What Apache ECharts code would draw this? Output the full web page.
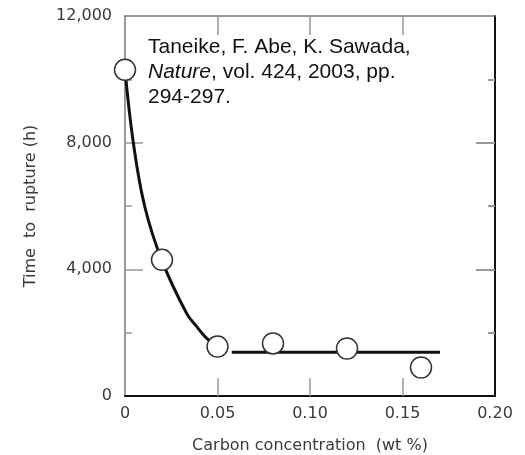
<!DOCTYPE html>
<html>
<head>
<meta charset="utf-8">
<script src="https://cdn.jsdelivr.net/npm/echarts@6/dist/echarts.min.js"></script>
<style>
  html, body { margin: 0; padding: 0; background: #fff; }
  #chart { width: 525px; height: 455px; }
</style>
</head>
<body>
<div id="chart"></div>
<script>
// measured points (wt % C, hours)
const carbon = [0, 0.02, 0.05, 0.08, 0.12, 0.16]
const rupture = [10300, 4300, 1560, 1660, 1500, 900]

// hand-drawn fit through the low-carbon points
const fitX = [0, 0.0045, 0.0106, 0.0198, 0.0333, 0.0388, 0.0442, 0.0502]
const fitY = [10300, 8000, 6000, 4300, 2610, 2190, 1820, 1560]

// plateau line
const plateauX = [0.0577, 0.1703]
const plateauY = [1380, 1380]

// inner tick positions (the frame edges carry no tick)
const xTicks = [0.05, 0.1, 0.15]
const yTicks = [4000, 8000]

const citation = [
  '{n|Taneike, F. Abe, K. Sawada,}',
  '{i|Nature}{n|, vol. 424, 2003, pp.}',
  '{n|294-297.}',
]

const labelFont = { fontFamily: 'DejaVu Sans', fontSize: 16, color: '#3a3a3a' }
const tickGray = '#999'

const chart = echarts.init(document.getElementById('chart'))

chart.setOption({
  animation: false,
  grid: { left: 125, right: 30, top: 16, bottom: 59, outerBoundsMode: 'none' },
  xAxis: [
    {
      type: 'value', position: 'bottom', min: 0, max: 0.2, interval: 0.05,
      name: 'Carbon concentration  (wt %)', nameLocation: 'middle', nameGap: 42,
      nameTextStyle: { ...labelFont },
      axisLine: { onZero: false, lineStyle: { color: '#111', width: 2 } },
      axisTick: { inside: true, length: 18, customValues: xTicks, lineStyle: { color: tickGray, width: 1.5 } },
      axisLabel: { ...labelFont, margin: 10, formatter: v => v === 0 ? '0' : v.toFixed(2) },
      splitLine: { show: false },
    },
    {
      type: 'value', position: 'top', min: 0, max: 0.2, interval: 0.05,
      axisLine: { onZero: false, lineStyle: { color: '#777', width: 1.5 } },
      axisTick: { inside: true, length: 19, customValues: xTicks, lineStyle: { color: tickGray, width: 1.5 } },
      axisLabel: { show: false },
      splitLine: { show: false },
    },
  ],
  yAxis: [
    {
      type: 'value', position: 'left', min: 0, max: 12000, interval: 4000,
      name: 'Time  to  rupture (h)', nameLocation: 'middle', nameGap: 86,
      nameTextStyle: { ...labelFont },
      axisLine: { show: true, onZero: false, lineStyle: { color: '#777', width: 1.5 } },
      axisTick: { inside: true, length: 18, customValues: yTicks, lineStyle: { color: tickGray, width: 1.5 } },
      minorTick: { show: true, splitNumber: 2, length: 7, lineStyle: { color: tickGray, width: 1.5 } },
      axisLabel: { ...labelFont, margin: 13, formatter: v => v.toLocaleString('en-US') },
      splitLine: { show: false },
    },
    {
      type: 'value', position: 'right', min: 0, max: 12000, interval: 4000,
      axisLine: { show: true, onZero: false, lineStyle: { color: '#111', width: 2 } },
      axisTick: { inside: true, length: 19, customValues: yTicks, lineStyle: { color: tickGray, width: 2 } },
      minorTick: { show: true, splitNumber: 2, length: 7, lineStyle: { color: tickGray, width: 2 } },
      axisLabel: { show: false },
      splitLine: { show: false },
    },
  ],
  graphic: [
    {
      type: 'text', left: 148, top: 37,
      style: {
        text: citation.join('\n'),
        rich: {
          n: { fontFamily: 'Liberation Sans', fontSize: 21, lineHeight: 25, fill: '#111' },
          i: { fontFamily: 'Liberation Sans', fontSize: 21, lineHeight: 25, fontStyle: 'italic', fill: '#111' },
        },
      },
    },
  ],
  series: [
    {
      name: 'fit', type: 'line', smooth: 0.4, symbol: 'none', z: 2,
      data: fitX.map((x, i) => [x, fitY[i]]),
      lineStyle: { color: '#111', width: 3 },
    },
    {
      name: 'plateau', type: 'line', symbol: 'none', z: 2,
      data: plateauX.map((x, i) => [x, plateauY[i]]),
      lineStyle: { color: '#111', width: 3 },
    },
    {
      name: 'measured', type: 'scatter', symbol: 'circle', symbolSize: 21, z: 5,
      data: carbon.map((x, i) => [x, rupture[i]]),
      itemStyle: { color: '#fff', borderColor: '#333', borderWidth: 1.5, opacity: 1 },
    },
  ],
})
</script>
</body>
</html>
